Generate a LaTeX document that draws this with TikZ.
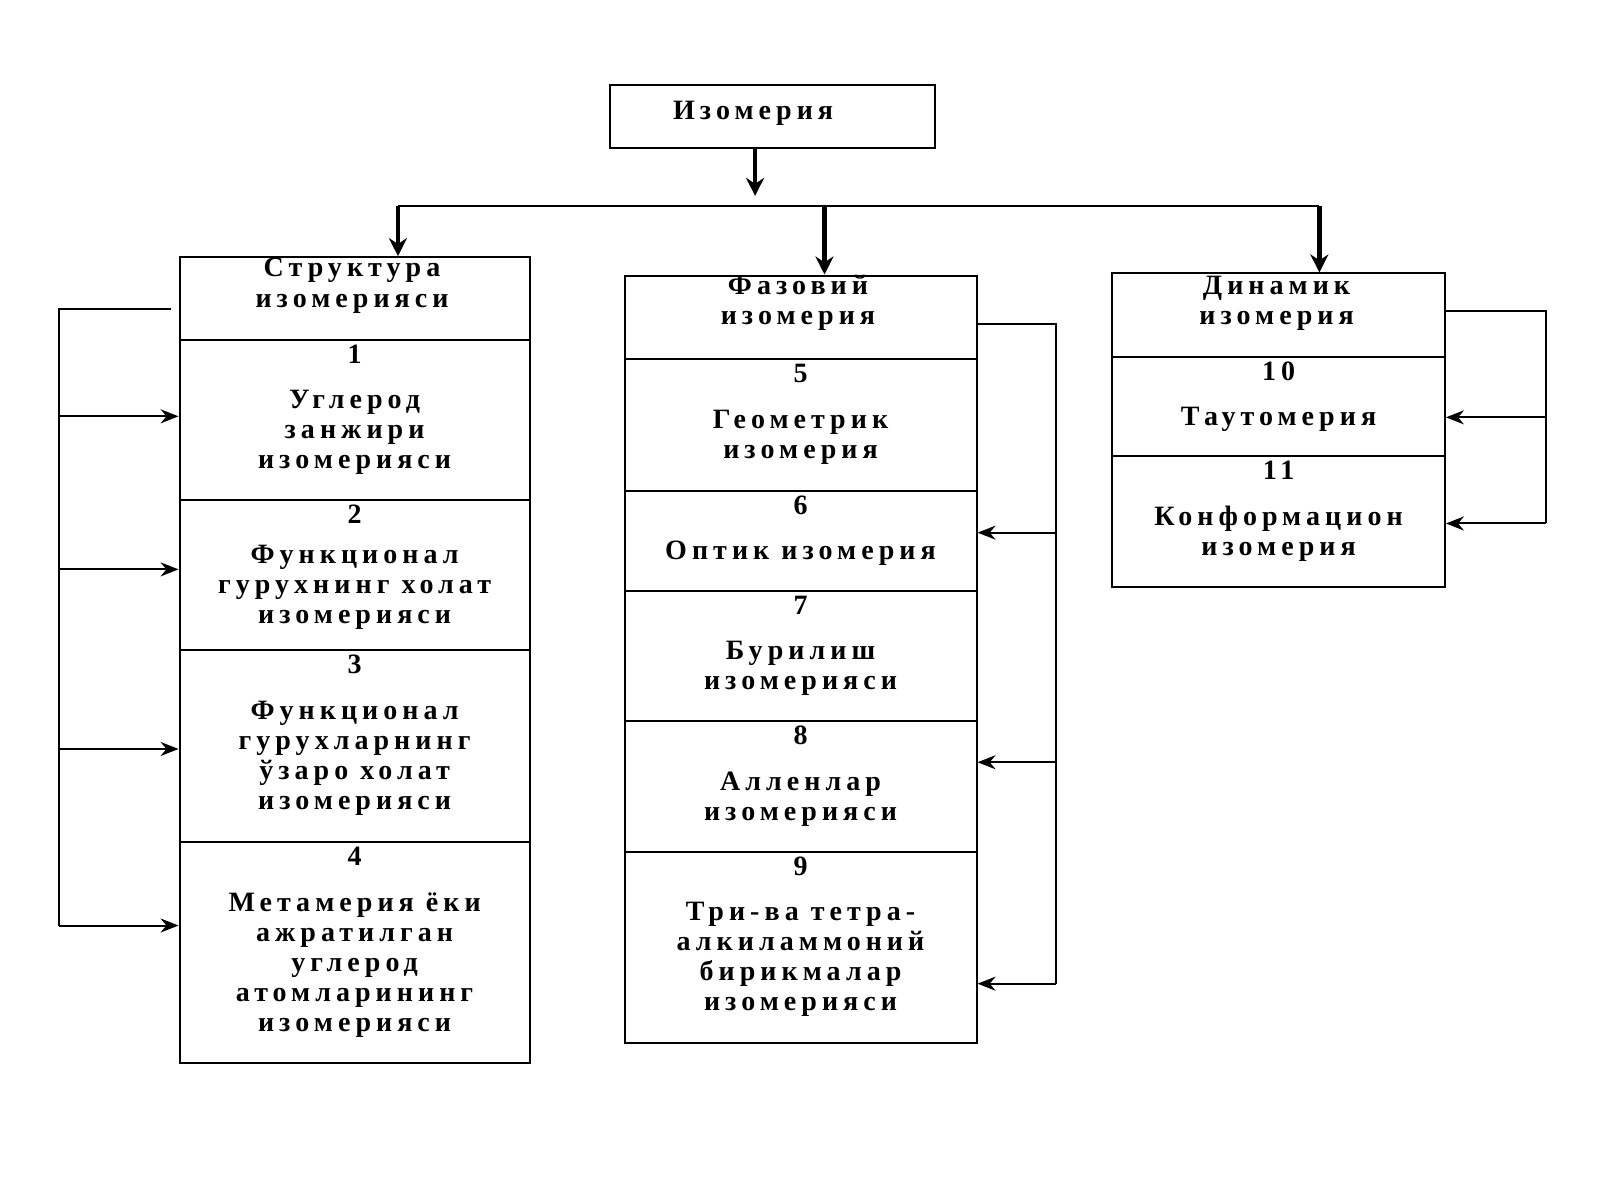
\documentclass[tikz,border=0pt]{standalone}
\usepackage{fontspec}
\setmainfont{Liberation Serif}[LetterSpace=18]
\usetikzlibrary{arrows.meta,fit}
\begin{document}
\begin{tikzpicture}[x=0.51pt,y=-0.51pt,
  box/.style={draw,line width=1pt,inner sep=0pt},
  txt/.style={align=center,font=\fontsize{14}{15}\selectfont\bfseries,inner sep=0pt},
  ln/.style={line width=1pt},
  arr/.style={line width=1pt,-{Stealth[length=9pt,width=7pt]}},
  big/.style={line width=2.2pt,-{Stealth[length=9pt,width=9pt]}}]
\useasboundingbox (0,0) rectangle (1568,1176);
\fill[white] (0,0) rectangle (1568,1176);
\newcommand\cell[7]{\node[box,fit={(#2,#3)(#4,#5)}] (#1) {};
  \node[txt] at ({(#2+#4)/2},#3+14) {#6};
  \node[txt] (#1t) at ({(#2+#4)/2},{(#3+#5)/2+12}) {#7};}
% top
\node[box,fit={(598,83)(916,145)}] (top) {};
\node[txt] at (738,111) {Изомерия};
% column 1
\node[box,fit={(176,252)(519,333)}] (h1) {};
\node[txt] at (345,280) {Структура\\изомерияси};
\cell{a1}{176}{333}{519}{490}{1}{Углерод\\занжири\\изомерияси}
\cell{a2}{176}{490}{519}{637}{2}{Функционал\\гурухнинг холат\\изомерияси}
\cell{a3}{176}{637}{519}{825}{3}{Функционал\\гурухларнинг\\ўзаро холат\\изомерияси}
\cell{a4}{176}{825}{519}{1042}{4}{Метамерия ёки\\ажратилган\\углерод\\атомларининг\\изомерияси}
% column 2
\node[box,fit={(612,270)(957,352)}] (h2) {};
\node[txt] at (782,297) {Фазовий\\изомерия};
\cell{b5}{612}{352}{957}{481}{5}{Геометрик\\изомерия}
\cell{b6}{612}{481}{957}{579}{6}{Оптик изомерия}
\cell{b7}{612}{579}{957}{707}{7}{Бурилиш\\изомерияси}
\cell{b8}{612}{707}{957}{835}{8}{Алленлар\\изомерияси}
\cell{b9}{612}{835}{957}{1022}{9}{Три-ва тетра-\\алкиламмоний\\бирикмалар\\изомерияси}
% column 3
\node[box,fit={(1090,268)(1416,350)}] (h3) {};
\node[txt] at (1251,297) {Динамик\\изомерия};
\cell{c10}{1090}{350}{1416}{447}{10}{Таутомерия}
\cell{c11}{1090}{447}{1416}{575}{11}{Конформацион\\изомерия}
% top connectors
\coordinate (j) at (740,202);
\draw[big] (top.south -| j) -- (740,192);
\draw[ln] (390,202) -- (1293,202);
\draw[big] (390,202) -- (h1.north -| 390,0);
\draw[big] (808,202) -- (h2.north -| 808,0);
\draw[big] (1293,202) -- (h3.north -| 1293,0);
% left bracket
\draw[ln] (168,303) -- (58,303) -- (58,907);
\foreach \y/\n in {408/a1,558/a2,734/a3,907/a4} \draw[arr] (58,\y) -- (\n.west |- 0,\y);
% middle bracket
\draw[ln] (h2.east |- 0,318) -- (1035,318) -- (1035,964);
\foreach \y/\n in {522/b6,747/b8,964/b9} \draw[arr] (1035,\y) -- (\n.east |- 0,\y);
% right bracket
\draw[ln] (h3.east |- 0,305) -- (1515,305) -- (1515,513);
\foreach \y/\n in {409/c10,513/c11} \draw[arr] (1515,\y) -- (\n.east |- 0,\y);
\end{tikzpicture}
\end{document}
